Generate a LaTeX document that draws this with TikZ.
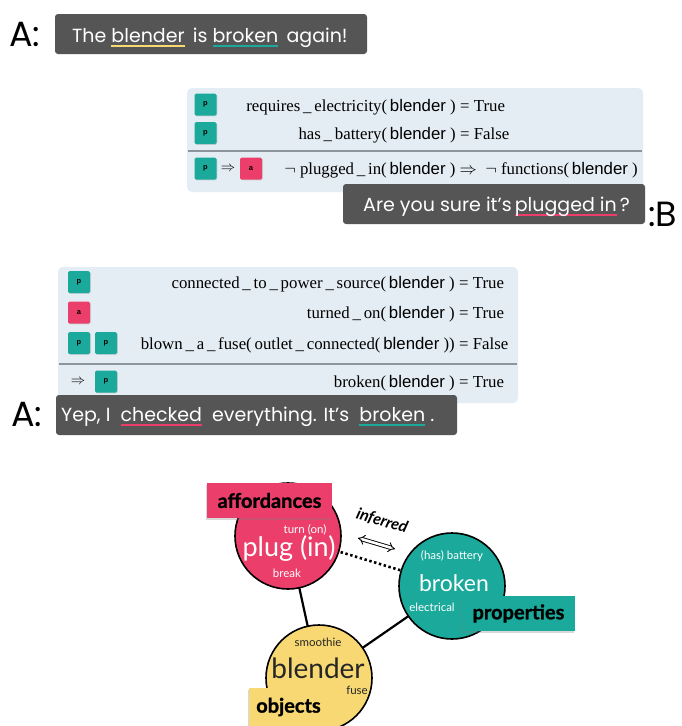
\documentclass[tikz,border=0pt]{standalone}
\usepackage{fontspec}
\setmainfont{Liberation Serif}
\newfontfamily\bubfont{Poppins}
\newfontfamily\fsans{Liberation Sans}
\newfontfamily\latof{Lato}
\newfontfamily\latoheavy{Lato}[BoldFeatures={FakeBold=1.1}]
\usetikzlibrary{arrows.meta,shadows}

\definecolor{bubgray}{HTML}{555555}
\definecolor{panelblue}{HTML}{E4EDF4}
\definecolor{pinkc}{HTML}{EC3E6A}
\definecolor{tealc}{HTML}{1AA99B}
\definecolor{yellowc}{HTML}{F7D872}
\definecolor{sepgray}{HTML}{8C949C}

% coloured underline under a word
\newcommand\mkul[2]{\setbox0=\hbox{#2}\rlap{\color{#1}\rule[-4.5pt]{\wd0}{1.8pt}}\box0\relax}
\newcommand\blnd{{\fsans blender}}
\newcommand\us{\,\_\,}

\tikzset{
  bubble/.style={fill=bubgray, rounded corners=3pt},
  bubtext/.style={text=white, font=\bubfont\fontsize{19}{19}\selectfont, anchor=base west, inner sep=0pt},
  speaker/.style={font=\bubfont\fontsize{35}{35}\selectfont, anchor=base west, inner sep=0pt},
  panel/.style={fill=panelblue, rounded corners=5pt},
  sep/.style={draw=sepgray, line width=1.2pt},
  badge/.style={fill=#1, rounded corners=1.5pt, minimum size=22pt, inner sep=0pt,
    font=\fsans\bfseries\fontsize{7.5}{7.5}\selectfont, text=black,
    drop shadow={opacity=0.25, shadow xshift=0.8pt, shadow yshift=-0.8pt}},
  fleft/.style={anchor=base east, inner sep=0pt, font=\fontsize{16.8}{16.8}\selectfont},
  fright/.style={anchor=base west, inner sep=0pt, font=\fontsize{16.8}{16.8}\selectfont},
  imp/.style={inner sep=0pt, font=\fontsize{14}{14}\selectfont},
  topic/.style={circle, draw=black, line width=1.6pt, minimum size=106pt, inner sep=0pt, fill=#1},
  tag/.style={fill=#1, inner sep=0pt, font=\latoheavy\bfseries\fontsize{20}{20}\selectfont, text=black,
    drop shadow={opacity=0.3, shadow xshift=-1pt, shadow yshift=-1.5pt}},
  small/.style={inner sep=0pt, font=\latof\fontsize{11.5}{11.5}\selectfont},
  link/.style={draw=black, line width=2.2pt}
}

\begin{document}
\begin{tikzpicture}[x=1pt,y=-1pt]
\useasboundingbox[fill=white] (0,0) rectangle (681,726);

% ---------- first statement ----------
\node[speaker] (sa1) at (9,46) {A:};
\fill[bubble] (55,14) rectangle (367,54);
\node[bubtext] (t1) at (72,42) {The \mkul{yellowc}{blender}\ \,is \mkul{tealc}{broken}\ \,again!};

% ---------- first reasoning panel ----------
\fill[panel] (187,88) rectangle (643,192);
\node[badge=tealc] (p11) at (205.5,104.5) {p};
\node[badge=tealc] (p12) at (205.5,133) {p};
\draw[sep] (188,151) -- (642,151);
\node[badge=tealc] (p13) at (205.5,168.5) {p};
\node[imp] (i13) at (228,169) {$\Rightarrow$};
\node[badge=pinkc] (a13) at (251,168.5) {a};
\node[fleft] (f11) at (456,111) {requires\us electricity(\,\blnd\ )};
\node[fright] (v11) at (460,111) {= True};
\node[fleft] (f12) at (456,139.5) {has\us battery(\,\blnd\ )};
\node[fright] (v12) at (460,139.5) {= False};
\node[fleft] (f13) at (638,174.5) {$\neg$ plugged\us in(\,\blnd\ ) $\Rightarrow$\ \ $\neg$ functions(\,\blnd\ )};

% ---------- question ----------
\fill[bubble] (343,184) rectangle (645,224);
\node[bubtext] (t2) at (363,211) {Are you sure it’s\,\mkul{pinkc}{plugged in}\,?};
\node[speaker] (sb) at (648,226) {:B};

% ---------- second reasoning panel ----------
\fill[panel] (58,267) rectangle (518,403);
\node[badge=tealc] (p21) at (79,282) {p};
\node[badge=pinkc] (a22) at (79,312.5) {a};
\node[badge=tealc] (p23) at (79,343) {p};
\node[badge=tealc] (p23b) at (106,343) {p};
\draw[sep] (59,364) -- (517,364);
\node[imp] (i24) at (78,382) {$\Rightarrow$};
\node[badge=tealc] (p24) at (106,381.5) {p};
\node[fleft] (f21) at (455,288) {connected\us to\us power\us source(\,\blnd\ )};
\node[fright] (v21) at (459,288) {= True};
\node[fleft] (f22) at (455,318.5) {turned\us on(\,\blnd\ )};
\node[fright] (v22) at (459,318.5) {= True};
\node[fleft] (f23) at (455,349) {blown\us a\us fuse(\,outlet\us connected(\,\blnd\ ))};
\node[fright] (v23) at (459,349) {= False};
\node[fleft] (f24) at (455,387.5) {broken(\,\blnd\ )};
\node[fright] (v24) at (459,387.5) {= True};

% ---------- answer ----------
\node[speaker] (sa2) at (11,426) {A:};
\fill[bubble] (56,395) rectangle (457,435);
\node[bubtext] (t3) at (61,421) {Yep, I \ \mkul{pinkc}{checked}\ \ everything. It’s \ \mkul{tealc}{broken}\ .};

% ---------- concept map ----------
\coordinate (cp) at (288,536);
\coordinate (ct) at (452,586);
\coordinate (cy) at (319,678);
\draw[link] (cp) -- (cy);
\draw[link] (ct) -- (cy);
\draw[draw=black, line width=2.6pt, dash pattern=on 2.4pt off 2.6pt] (cp) -- (ct);

\node[topic=pinkc] (plug) at (cp) {};
\node[topic=tealc] (brok) at (ct) {};
\node[topic=yellowc] (blen) at (cy) {};

\node[small, text=white] (turn) at (305,530) {turn (on)};
\node[inner sep=0pt, text=white, font=\latof\fontsize{27}{27}\selectfont] (plugt) at (289,548) {plug (in)};
\node[small, text=white] (brk) at (287,573) {break};

\node[small, text=white] (bat) at (452,556) {(has) battery};
\node[inner sep=0pt, text=white, font=\latof\fontsize{23}{23}\selectfont] (brokt) at (454,583) {broken};
\node[small, text=white] (elec) at (432,607) {electrical};

\node[small, text=black!85] (smo) at (318,642) {smoothie};
\node[inner sep=0pt, text=black!85, font=\latof\fontsize{28}{28}\selectfont] (blent) at (318,668) {blender};
\node[small, text=black!85] (fuse) at (357,690) {fuse};

\node[tag=pinkc, minimum width=125pt, minimum height=35pt] (aff) at (269.5,500.5) {affordances};
\node[tag=tealc, minimum width=113pt, minimum height=35pt] (prop) at (518.5,613.5) {properties};
\node[tag=yellowc, minimum width=79pt, minimum height=40pt, anchor=north west] (obj) at (249,688) {};
\node[inner sep=0pt, font=\latoheavy\bfseries\fontsize{20}{20}\selectfont] (objt) at (288.5,707) {objects};

\node[inner sep=0pt, rotate=-17, font=\latoheavy\bfseries\itshape\fontsize{16}{16}\selectfont] (inf) at (382,521) {inferred};
\coordinate (ia) at (358,538);
\coordinate (ib) at (395,549);
\draw[line width=0.9pt, double, double distance=2.6pt, {Implies}-{Implies}] (ia) -- (ib);
\end{tikzpicture}
\end{document}
